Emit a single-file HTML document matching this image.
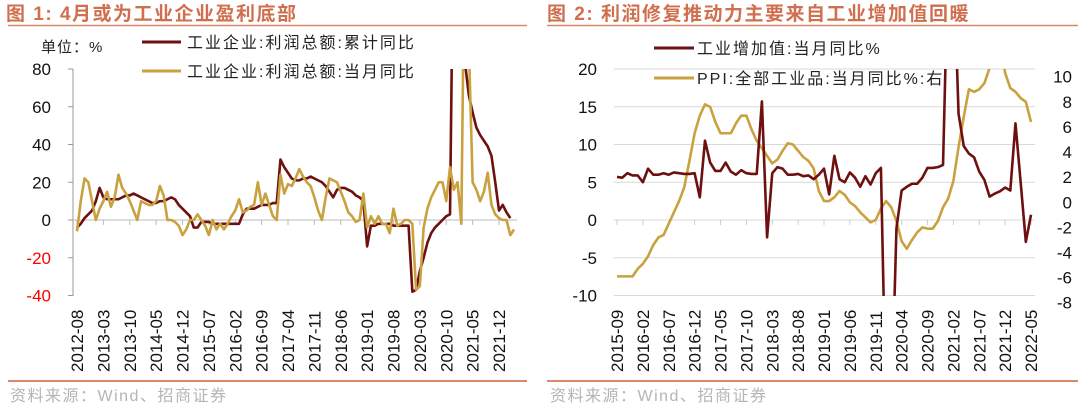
<!DOCTYPE html>
<html><head><meta charset="utf-8"><style>
body{margin:0;background:#fff;}
svg text{font-family:"Liberation Sans","Noto Sans CJK SC",sans-serif;}
</style></head><body>
<svg id="c" width="1080" height="410" xmlns="http://www.w3.org/2000/svg">
<g>
<text x="6" y="20" font-size="19" font-weight="bold" letter-spacing="1.5" fill="#cf6f4e">图 1:  4月或为工业企业盈利底部</text>
<line x1="8" y1="25.5" x2="527" y2="25.5" stroke="#d9896a" stroke-width="1.5"/>
<line x1="8" y1="381" x2="527" y2="381" stroke="#d9896a" stroke-width="2"/>
<text x="10" y="401" font-size="16" letter-spacing="1.5" fill="#b5b5b5">资料来源：Wind、招商证券</text>
</g>
<g>
<text x="547" y="20" font-size="19" font-weight="bold" letter-spacing="1.5" fill="#cf6f4e">图 2:  利润修复推动力主要来自工业增加值回暖</text>
<line x1="547" y1="25.5" x2="1078" y2="25.5" stroke="#d9896a" stroke-width="1.5"/>
<line x1="547" y1="381" x2="1078" y2="381" stroke="#d9896a" stroke-width="2"/>
<text x="550" y="401" font-size="16" letter-spacing="1.5" fill="#b5b5b5">资料来源：Wind、招商证券</text>
</g>
<g id="L"></g><g id="R"></g>
</svg>
<script>
// ---- Left chart data (2012-08 .. 2022-04) ----
const leftTickLabels=["2012-08","2013-03","2013-10","2014-05","2014-12","2015-07","2016-02","2016-09","2017-04","2017-11","2018-06","2019-01","2019-08","2020-03","2020-10","2021-05","2021-12"];
const leftYTicks=[80,60,40,20,0,-20,-40];
const profitCum=[-4,-2,1,3,5,10,17,12,11,11,11,11,12,13,13,14,13,12,11,10,9,9,10,10,11,12,11,8,6,4,2,-4,-4,-1,-1,-1,-2,-2,-2,-2,-2,-2,-2,-2,3,6,6,6,7,8,8,8,9,9,32,28,25,22,21,21,22,22,23,22,21,20,18,15,12,16,17,17,16,15,13,12,10,-14,-3,-3,-2,-2,-2,-2,-3,-3,-3,-3,-3,-38,-37,-27,-20,-12,-7,-4,-2,0,2,3,178,137,106,83,66,57,49,45,42,39,34,20,5,8,4,1];
const profitMonth=[-6,10,22,20,10,0,6,10,15,7,12,24,17,14,10,5,0,10,9,8,8,10,18,13,0,0,-1,-3,-8,-5,0,0,3,0,-3,-8,0,-5,-2,-5,-2,2,5,11,4,5,7,8,20,8,14,8,2,0,24,14,19,18,22,27,23,20,18,12,5,0,12,22,21,20,15,10,4,2,-1,0,14,-4,2,-2,2,-2,-2,-7,6,-3,-2,0,0,-2,-37,-35,-4,6,12,16,20,20,10,28,16,20,-2,178,92,20,16,10,15,25,8,3,1,0,0,-8,-5];
// ---- Right chart data (2015-09 .. 2022-05) ----
const rightTickLabels=["2015-09","2016-02","2016-07","2016-12","2017-05","2017-10","2018-03","2018-08","2019-01","2019-06","2019-11","2020-04","2020-09","2021-02","2021-07","2021-12","2022-05"];
const ipYTicks=[20,15,10,5,0,-5,-10];
const ppiYTicks=[10,8,6,4,2,0,-2,-4,-6,-8];
const ipMonth=[5.7,5.6,6.2,5.9,5.9,5.0,6.8,6.0,6.0,6.2,6.0,6.3,6.2,6.1,6.1,6.2,3.0,10.5,7.6,6.5,6.5,7.6,6.4,6.0,6.6,6.2,6.1,6.1,15.7,-2.3,6.2,7.0,6.8,6.0,6.0,6.1,5.8,5.9,5.4,6.0,6.8,3.4,8.5,5.4,5.0,6.3,5.6,4.4,5.8,4.7,6.2,6.9,-25.9,-25.9,-1.1,3.9,4.4,4.8,4.8,5.6,6.9,6.9,7.0,7.3,35.1,35.1,14.1,9.8,8.8,8.3,6.4,5.3,3.1,3.5,3.8,4.3,3.9,12.8,5.0,-2.9,0.7];
const ppiMonth=[-5.9,-5.9,-5.9,-5.9,-5.3,-4.9,-4.3,-3.4,-2.8,-2.6,-1.7,-0.8,0.1,1.2,3.3,5.5,6.9,7.8,7.6,6.4,5.5,5.5,5.5,6.3,6.9,6.9,5.8,4.9,4.3,3.7,3.1,3.4,4.1,4.7,4.6,4.1,3.6,3.3,2.7,0.9,0.1,0.1,0.4,0.9,0.6,0.0,-0.3,-0.8,-1.2,-1.6,-1.4,-0.5,0.1,-0.4,-1.5,-3.1,-3.7,-3.0,-2.4,-2.0,-2.1,-2.1,-1.5,-0.4,0.3,1.7,4.4,6.8,9.0,8.8,9.0,9.5,10.7,13.5,12.9,10.3,9.1,8.8,8.3,8.0,6.4];

const NS="http://www.w3.org/2000/svg";
const DARK="#6e1010", GOLD="#c9a13f";
function mk(tag,attrs,parent,txt){const e=document.createElementNS(NS,tag);for(const k in attrs)e.setAttribute(k,attrs[k]);if(txt!==undefined)e.textContent=txt;parent.appendChild(e);return e;}
const defs=mk("defs",{},document.getElementById("c"));
const cl1=mk("clipPath",{id:"clipL"},defs);mk("rect",{x:60,y:69,width:470,height:240},cl1);
const cl2=mk("clipPath",{id:"clipR"},defs);mk("rect",{x:600,y:69,width:440,height:227},cl2);

// ---- Left chart ----
(function(){
const g=document.getElementById("L");
const x0=77, dx=(499-77)/112;
const xL=i=>x0+i*dx;
const yL=v=>220-(v)*(220-69)/80;
const axis=mk("line",{x1:73,y1:69,x2:73,y2:296,stroke:"#999","stroke-width":1},g);


leftYTicks.forEach(v=>{
  const y=yL(v);
  mk("line",{x1:68,y1:y,x2:73,y2:y,stroke:"#999"},g);
  const t=mk("text",{x:51,y:y+6,"font-size":17,"text-anchor":"end",fill:v<0?"#ff0000":"#111"},g,String(v));
  
  
});
const xa=mk("line",{x1:73,y1:220,x2:517,y2:220,stroke:"#bbb","stroke-width":1},g);


leftTickLabels.forEach((s,k)=>{
  const x=xL(k*7);
  mk("line",{x1:x,y1:220,x2:x,y2:225,stroke:"#bbb"},g);
  const t=mk("text",{transform:`translate(${x+6},372) rotate(-90)`,"font-size":17,fill:"#111"},g,s);
  
  
});
const un=mk("text",{x:41,y:52,"font-size":15,"letter-spacing":1,fill:"#222"},g,"单位：%");


const pc=mk("g",{"clip-path":"url(#clipL)"},g);
const p1=mk("polyline",{points:profitCum.map((v,i)=>xL(i)+","+yL(v)).join(" "),fill:"none",stroke:DARK,"stroke-width":2.6,"stroke-linejoin":"round"},pc);


const p2=mk("polyline",{points:profitMonth.map((v,i)=>xL(i)+","+yL(v)).join(" "),fill:"none",stroke:GOLD,"stroke-width":2.6,"stroke-linejoin":"round"},pc);


[["工业企业:利润总额:累计同比",DARK,42],["工业企业:利润总额:当月同比",GOLD,71]].forEach(([s,c,y])=>{
  const le=mk("g",{},g);
  
  
  mk("line",{x1:142,y1:y,x2:181,y2:y,stroke:c,"stroke-width":3},le);
  mk("text",{x:187,y:y+6,"font-size":16,"letter-spacing":2,fill:"#222"},le,s);
});
})();

// ---- Right chart ----
(function(){
const g=document.getElementById("R");
const x0=617, dx=(1031-617)/80;
const xR=i=>x0+i*dx;
const yI=v=>220-v*(220-69)/20;
const yP=v=>202.3-v*(295-69)/18;
ipYTicks.forEach(v=>{
  const y=yI(v);
  const gl=mk("line",{x1:614,y1:y,x2:1035,y2:y,stroke:"#d9d9d9","stroke-width":1},g);
  
  
  const t=mk("text",{x:597,y:y+6,"font-size":17,"text-anchor":"end",fill:"#111"},g,String(v));
  
  
});
ppiYTicks.forEach(v=>{
  const t=mk("text",{x:1072,y:yP(v)+6,"font-size":17,"text-anchor":"end",fill:"#111"},g,String(v));
  
  
});
rightTickLabels.forEach((s,k)=>{
  const x=xR(k*5);
  mk("line",{x1:x,y1:220,x2:x,y2:225,stroke:"#ccc"},g);
  const t=mk("text",{transform:`translate(${x+6},372) rotate(-90)`,"font-size":17,fill:"#111"},g,s);
  
  
});
const pc=mk("g",{"clip-path":"url(#clipR)"},g);
const p2=mk("polyline",{points:ppiMonth.map((v,i)=>xR(i)+","+yP(v)).join(" "),fill:"none",stroke:GOLD,"stroke-width":2.6,"stroke-linejoin":"round"},pc);


const p1=mk("polyline",{points:ipMonth.map((v,i)=>xR(i)+","+yI(v)).join(" "),fill:"none",stroke:DARK,"stroke-width":2.6,"stroke-linejoin":"round"},pc);


[["工业增加值:当月同比%",DARK,48],["PPI:全部工业品:当月同比%:右",GOLD,78]].forEach(([s,c,y])=>{
  const le=mk("g",{},g);
  
  
  mk("line",{x1:654,y1:y,x2:694,y2:y,stroke:c,"stroke-width":3},le);
  mk("text",{x:697,y:y+6,"font-size":16,"letter-spacing":2,fill:"#222"},le,s);
});
})();
</script>
</body></html>
